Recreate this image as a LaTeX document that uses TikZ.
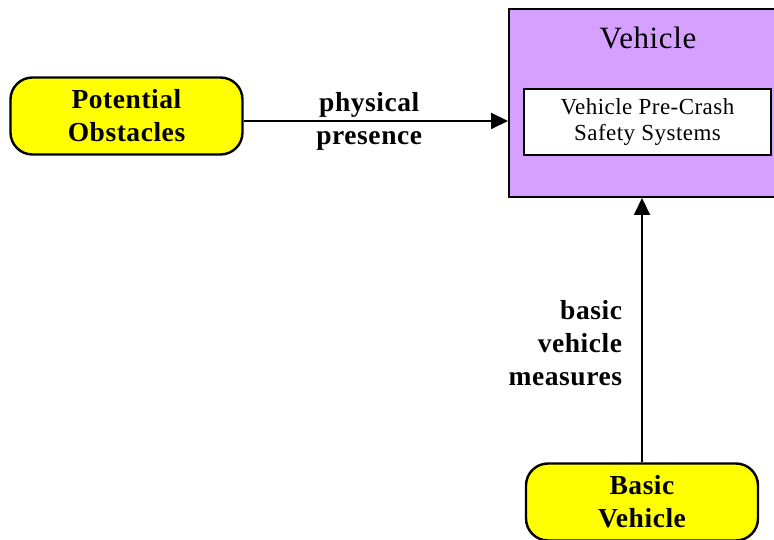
\documentclass[tikz,border=0pt]{standalone}
\usepackage{fontspec}
\setmainfont{Liberation Serif}
\newfontfamily\lblfont[LetterSpace=2]{Liberation Serif}
\usetikzlibrary{positioning,arrows.meta}
\definecolor{vehpurple}{RGB}{213,160,255}
\definecolor{extyellow}{RGB}{255,255,0}

\begin{document}
\begin{tikzpicture}[
  x=1pt, y=1pt,
  ext/.style={draw, line width=2.4pt, fill=extyellow, rounded corners=22pt,
              minimum width=232pt, minimum height=77pt, align=center,
              font=\lblfont\bfseries\fontsize{27.5}{33}\selectfont},
  sys/.style={draw, line width=2pt, fill=vehpurple,
              minimum width=266pt, minimum height=188pt},
  ttl/.style={font=\lblfont\fontsize{31}{36}\selectfont},
  sub/.style={draw, line width=2pt, fill=white, minimum width=247pt,
              minimum height=66pt, align=center,
              font=\lblfont\fontsize{23}{26}\selectfont},
  lbl/.style={align=center, inner sep=0pt,
              font=\lblfont\bfseries\fontsize{27.5}{33}\selectfont},
  arr/.style={-{Triangle[length=17pt,width=16pt]}, line width=2pt}
]
\useasboundingbox (0,0) rectangle (774,-540);
\node[ext] (obs) at (126.5,-116) {Potential\\Obstacles};
\node[sys] (veh) at (642,-103) {};
\node[ttl] (vt) at (648,-38) {Vehicle};
\node[sub] (pcs) at (647.5,-122) {Vehicle Pre-Crash\\Safety Systems};
\node[ext] (bv) at (642,-502) {Basic\\Vehicle};
\draw[arr] ([yshift=-5pt]obs.east) -- ([yshift=-5pt]obs.east -| veh.west)
  node[lbl, pos=0.475] (pp) {physical\\presence};
\draw[arr] (bv) -- (veh)
  node[lbl, pos=0.45, left=19pt, align=right] (bvm) {basic\\vehicle\\measures};
\end{tikzpicture}
\end{document}
